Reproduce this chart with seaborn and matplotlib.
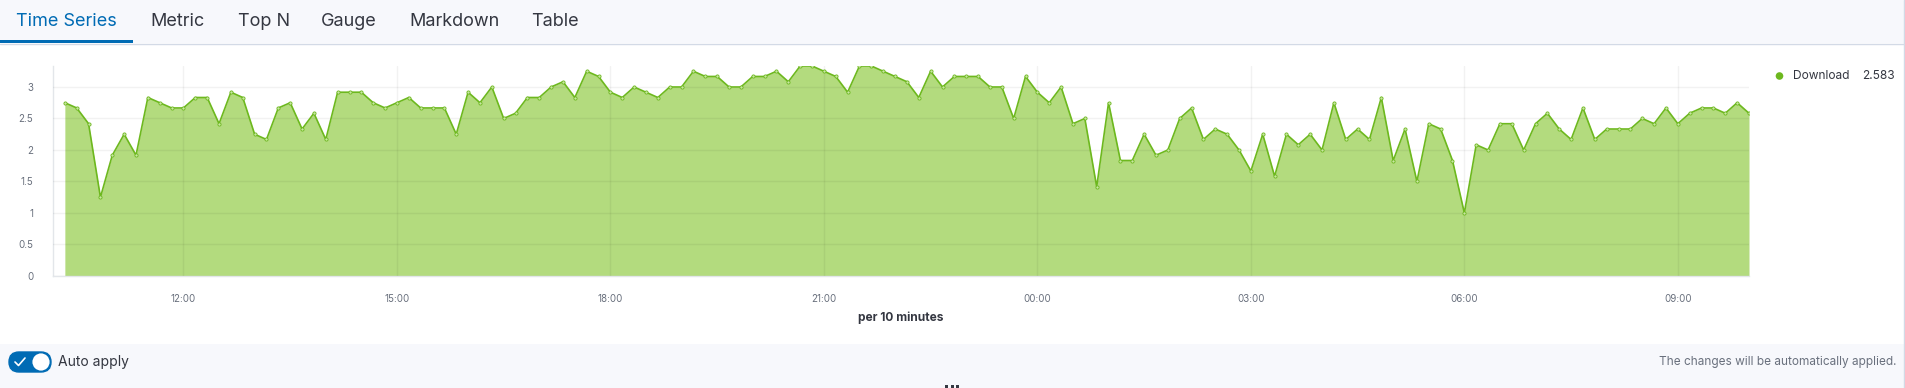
import numpy as np
import pandas as pd
import matplotlib
matplotlib.use("Agg")
import matplotlib.pyplot as plt
import matplotlib.dates as mdates
from matplotlib.patches import FancyBboxPatch, Rectangle, Circle
from matplotlib.lines import Line2D
import seaborn as sns

# ---------------- data ----------------
tabs = ["Time Series", "Metric", "Top N", "Gauge", "Markdown", "Table"]
series_name = "Download"
start_time = "2021-06-14 10:20"
step = "10min"
download = [
    2.75, 2.667, 2.417, 1.25, 1.917, 2.25, 1.917, 2.833, 2.75, 2.667,
    2.667, 2.833, 2.833, 2.417, 2.917, 2.833, 2.25, 2.167, 2.667, 2.75,
    2.333, 2.583, 2.167, 2.917, 2.917, 2.917, 2.75, 2.667, 2.75, 2.833,
    2.667, 2.667, 2.667, 2.25, 2.917, 2.75, 3.0, 2.5, 2.583, 2.833,
    2.833, 3.0, 3.083, 2.833, 3.25, 3.167, 2.917, 2.833, 3.0, 2.917,
    2.833, 3.0, 3.0, 3.25, 3.167, 3.167, 3.0, 3.0, 3.167, 3.167,
    3.25, 3.083, 3.333, 3.333, 3.25, 3.167, 2.917, 3.333, 3.333, 3.25,
    3.167, 3.083, 2.833, 3.25, 3.0, 3.167, 3.167, 3.167, 3.0, 3.0,
    2.5, 3.167, 2.917, 2.75, 3.0, 2.417, 2.5, 1.417, 2.75, 1.833,
    1.833, 2.25, 1.917, 2.0, 2.5, 2.667, 2.167, 2.333, 2.25, 2.0,
    1.667, 2.25, 1.583, 2.25, 2.083, 2.25, 2.0, 2.75, 2.167, 2.333,
    2.167, 2.833, 1.833, 2.333, 1.5, 2.417, 2.333, 1.833, 1.0, 2.083,
    2.0, 2.417, 2.417, 2.0, 2.417, 2.583, 2.333, 2.167, 2.667, 2.167,
    2.333, 2.333, 2.333, 2.5, 2.417, 2.667, 2.417, 2.583, 2.667, 2.667,
    2.583, 2.75, 2.583,
]
y_ticks = [0, 0.5, 1, 1.5, 2, 2.5, 3]
y_tick_labels = ["0", "0.5", "1", "1.5", "2", "2.5", "3"]
x_label = "per 10 minutes"
auto_apply_label = "Auto apply"
auto_apply_note = "The changes will be automatically applied."

times = pd.date_range(start_time, periods=len(download), freq=step)
df = pd.DataFrame({"time": times, "value": download})

# ---------------- style ----------------
sns.set_theme(style="white")
plt.rcParams["font.family"] = ["Inter", "DejaVu Sans"]

W, H = 1905, 388
fig = plt.figure(figsize=(W / 100, H / 100), dpi=100)
fig.patch.set_facecolor("white")

LINE = "#6DB81E"
FILL = "#B3DB7E"
GRID = "#000000"
TEXT = "#343741"
SUBT = "#69707D"
BLUE = "#006BB4"
LIGHT = "#E3E6EA"

# background / UI chrome axes in pixel coordinates
bg = fig.add_axes([0, 0, 1, 1], zorder=0)
bg.set_xlim(0, W)
bg.set_ylim(H, 0)
bg.axis("off")

bg.add_patch(Rectangle((0, 0), W, 43, facecolor="#F7F8FC", edgecolor="none"))
bg.add_line(Line2D([0, W], [43.5, 43.5], color="#D3DAE6", lw=1))
bg.add_patch(Rectangle((0, 40), 133, 3.2, facecolor=BLUE, edgecolor="none"))
tab_x = [16, 150, 238, 321, 409, 531]
for i, (t, x) in enumerate(zip(tabs, tab_x)):
    bg.text(x, 21, t, fontsize=13, color=BLUE if i == 0 else TEXT,
            va="center", ha="left")

bg.add_patch(Rectangle((0, 344), W, 44, facecolor="#F7F8FC", edgecolor="none"))
bg.add_line(Line2D([W - 1.5, W - 1.5], [0, H], color="#D3DAE6", lw=1))
bg.add_patch(FancyBboxPatch((9, 352), 42, 20,
                            boxstyle="round,pad=0,rounding_size=10",
                            facecolor=BLUE, edgecolor=BLUE, lw=1))
bg.add_patch(Circle((41, 362), 9.3, facecolor="white", edgecolor=BLUE, lw=1))
bg.add_line(Line2D([15, 18.5, 25], [362, 365.5, 358], color="white", lw=1.2))
bg.text(58, 362, auto_apply_label, fontsize=10, color=TEXT, va="center", ha="left")
bg.text(1896, 362, auto_apply_note, fontsize=8.5, color=SUBT, va="center", ha="right")
for hx in (945, 950.5, 956):
    bg.add_patch(Rectangle((hx, 385), 3, 3, facecolor=TEXT, edgecolor="none"))

# legend
bg.scatter([1779.5], [76], s=30, color=LINE, edgecolors="none")
bg.text(1793, 76, series_name, fontsize=8.6, color=TEXT, va="center", ha="left")
bg.text(1895, 76, f"{download[-1]:.3f}", fontsize=8.6, color=TEXT,
        va="center", ha="right")

# ---------------- main chart ----------------
left, right, top, bottom = 53, 1749, 66, 276
ax = fig.add_axes([left / W, (H - bottom) / H, (right - left) / W, (bottom - top) / H],
                  zorder=1)
ax.set_facecolor("none")

ax.fill_between(df["time"], df["value"], 0, color=FILL, linewidth=0, zorder=1)
sns.lineplot(data=df, x="time", y="value", ax=ax, color=LINE, linewidth=1.2,
             marker="o", markersize=2.3, markerfacecolor="#C9E6A4",
             markeredgecolor=LINE, markeredgewidth=0.6, zorder=3)

ax.set_xlim(times[0] - pd.Timedelta(step), times[-1])
ax.set_ylim(0, max(download))
ax.set_yticks(y_ticks)
ax.set_yticklabels(y_tick_labels)
ax.xaxis.set_major_locator(mdates.HourLocator(byhour=range(0, 24, 3)))
ax.xaxis.set_major_formatter(mdates.DateFormatter("%H:%M"))

ax.set_axisbelow(False)
ax.grid(True, color=GRID, alpha=0.05, linewidth=1, zorder=2)
ax.tick_params(axis="both", which="major", length=7.2, width=0.8, color=LIGHT,
               labelsize=7, labelcolor=SUBT)
ax.tick_params(axis="x", pad=6)
ax.tick_params(axis="y", pad=7)
for s in ["top", "right"]:
    ax.spines[s].set_visible(False)
for s in ["left", "bottom"]:
    ax.spines[s].set_color(LIGHT)
    ax.spines[s].set_linewidth(1)

ax.set_ylabel("")
ax.set_xlabel(x_label, fontsize=8.6, fontweight="bold", color=TEXT, labelpad=5)

fig.savefig("out.png", dpi=100, facecolor="white")
